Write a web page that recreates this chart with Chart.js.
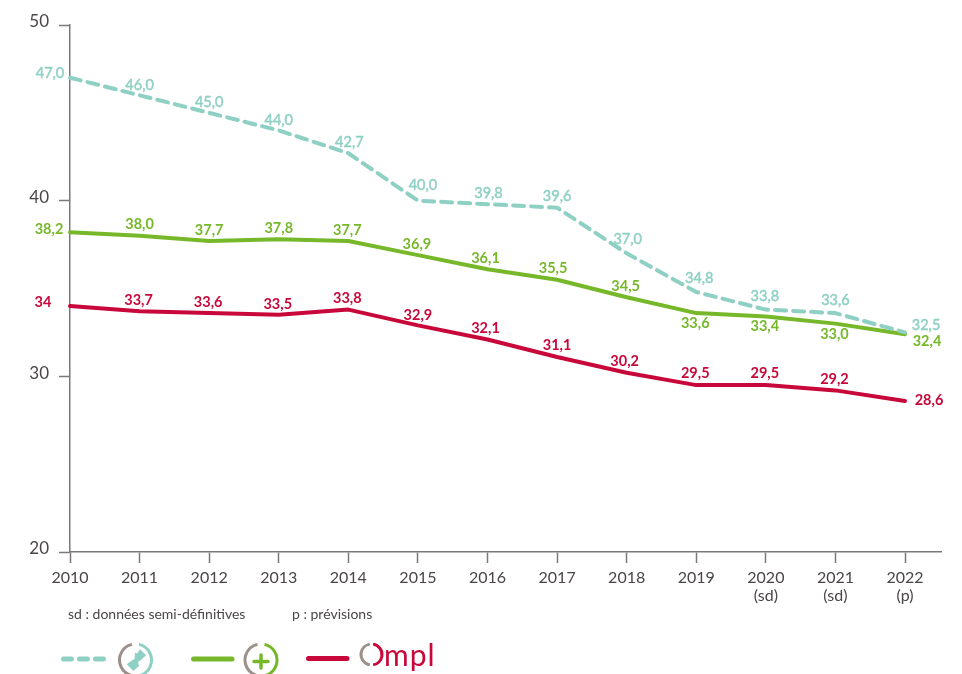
<!DOCTYPE html>
<html lang="fr"><head><meta charset="utf-8">
<style>html,body{margin:0;padding:0;background:#fff}canvas{display:block}</style>
<script src="https://cdn.jsdelivr.net/npm/chart.js@4"></script>
</head><body><canvas id="c" width="962" height="674"></canvas>
<script>
const years = [2010,2011,2012,2013,2014,2015,2016,2017,2018,2019,2020,2021,2022];
const yearSuffix = {2020:'(sd)',2021:'(sd)',2022:'(p)'};
const yTicks = [20,30,40,50];
const tealValues  = [47.0,46.0,45.0,44.0,42.7,40.0,39.8,39.6,37.0,34.8,33.8,33.6,32.5];
const greenValues = [38.2,38.0,37.7,37.8,37.7,36.9,36.1,35.5,34.5,33.6,33.4,33.0,32.4];
const redValues   = [34.0,33.7,33.6,33.5,33.8,32.9,32.1,31.1,30.2,29.5,29.5,29.2,28.6];
const tealLabels  = ['47,0','46,0','45,0','44,0','42,7','40,0','39,8','39,6','37,0','34,8','33,8','33,6','32,5'];
const greenLabels = ['38,2','38,0','37,7','37,8','37,7','36,9','36,1','35,5','34,5','33,6','33,4','33,0','32,4'];
const redLabels   = ['34','33,7','33,6','33,5','33,8','32,9','32,1','31,1','30,2','29,5','29,5','29,2','28,6'];
const noteSd = 'sd : données semi-définitives';
const noteP = 'p : prévisions';

const TEAL='#8fd0c4', GREEN='#76b82a', RED='#c8083a', GREY='#4a4546', AXIS='#7d7878', RING='#9c908a';
const FONT='Lato, sans-serif';

// label nudges (dx, dy from the data point), one row per series
const tealDx=[-20,0,0,0,1,5,1,0,1,3,-1,0,21],  tealDy=[-4,-10,-11,-10,-11,-15,-11,-11,-14,-14,-13,-13,-7];
const greenDx=[-21,0,0,0,-1,-1,-2,-4,-1,-1,-1,-1,22], greenDy=[-3,-11,-11,-11,-11,-11,-11,-11,-11,10,10,11,7];
const redDx=[-27,-1,-1,-1,-1,0,-2,0,-2,-1,-1,-1,24], redDy=[-4,-11,-11,-11,-11,-10,-11,-12,-11,-12,-12,-11,-1];

const pointLabels = {
  id:'pointLabels',
  afterDatasetsDraw(chart){
    const {ctx,scales:{x,y}}=chart;
    const rows=[[tealValues,tealLabels,tealDx,tealDy,TEAL,'400',0.45],
                [greenValues,greenLabels,greenDx,greenDy,GREEN,'700',0],
                [redValues,redLabels,redDx,redDy,RED,'700',0]];
    ctx.save();ctx.textAlign='center';ctx.textBaseline='middle';
    rows.forEach(([vals,txt,dx,dy,col,w,sw])=>{
      ctx.fillStyle=col;ctx.strokeStyle=col;ctx.lineWidth=sw;ctx.font=w+' 14.5px '+FONT;
      vals.forEach((v,i)=>{
        const px=x.getPixelForValue(years[i])+dx[i], py=y.getPixelForValue(v)+dy[i];
        ctx.fillText(txt[i],px,py);
        if(sw) ctx.strokeText(txt[i],px,py);
      });
    });
    ctx.restore();
  }
};

function ring(ctx,cx,cy,col){
  ctx.lineWidth=3;ctx.lineCap='butt';
  ctx.strokeStyle=RING;ctx.beginPath();ctx.arc(cx,cy,16,Math.PI*0.6,Math.PI*1.43);ctx.stroke();
  ctx.strokeStyle=col;ctx.beginPath();ctx.arc(cx,cy,16,-Math.PI*0.43,Math.PI*0.42);ctx.stroke();
}
const footer = {
  id:'footer',
  afterDraw(chart){
    const {ctx}=chart;
    ctx.save();
    ctx.fillStyle=GREY;ctx.font='14px '+FONT;ctx.textAlign='left';ctx.textBaseline='middle';
    ctx.fillText(noteSd,68,614);ctx.fillText(noteP,292,614);
    const ds=chart.data.datasets;
    ctx.lineWidth=5;ctx.lineCap='round';
    ctx.strokeStyle=ds[0].borderColor;
    [[63.5,71.5],[79.5,87.5],[95.5,103.5]].forEach(([a,b])=>{ctx.beginPath();ctx.moveTo(a,659);ctx.lineTo(b,659);ctx.stroke();});
    ctx.strokeStyle=ds[1].borderColor;ctx.beginPath();ctx.moveTo(193.5,659);ctx.lineTo(232,659);ctx.stroke();
    ctx.strokeStyle=ds[2].borderColor;ctx.beginPath();ctx.moveTo(308.5,658.5);ctx.lineTo(347,658.5);ctx.stroke();
    // first emblem
    ring(ctx,135.5,660,TEAL);
    ctx.fillStyle=TEAL;ctx.beginPath();
    ctx.moveTo(135,652.7);ctx.lineTo(137,653.5);ctx.lineTo(140,649.3);ctx.lineTo(146,655.3);ctx.lineTo(141,660);
    ctx.lineTo(138,662);ctx.lineTo(139,666);ctx.lineTo(133.3,671);ctx.lineTo(126.7,664.3);ctx.lineTo(132.7,660);ctx.lineTo(134.5,659);ctx.closePath();ctx.fill();
    // second emblem
    ring(ctx,261,660,GREEN);
    ctx.strokeStyle=GREEN;ctx.lineWidth=3.5;ctx.lineCap='round';ctx.beginPath();
    ctx.moveTo(254,661.5);ctx.lineTo(268,661.5);ctx.moveTo(261,655);ctx.lineTo(261,668);ctx.stroke();
    // third mark
    ctx.lineWidth=3;ctx.lineCap='butt';
    ctx.strokeStyle=RING;ctx.beginPath();ctx.arc(371.5,654.5,10.5,Math.PI*0.55,Math.PI*1.45);ctx.stroke();
    ctx.strokeStyle=RED;ctx.beginPath();ctx.arc(371.5,654.5,10.5,-Math.PI*0.45,Math.PI*0.45);ctx.stroke();
    ctx.fillStyle=RED;ctx.font='400 30px '+FONT;ctx.textBaseline='alphabetic';ctx.textAlign='left';
    ctx.letterSpacing='1px';
    ctx.fillText('mpl',384,666);
    ctx.restore();
  }
};

new Chart(document.getElementById('c'),{
  type:'line',
  data:{datasets:[
    {label:'teal',data:years.map((x,i)=>({x,y:tealValues[i]})),borderColor:TEAL,borderWidth:4,borderDash:[11,7],borderCapStyle:'round',borderDashOffset:0},
    {label:'green',data:years.map((x,i)=>({x,y:greenValues[i]})),borderColor:GREEN,borderWidth:4,borderCapStyle:'round'},
    {label:'red',data:years.map((x,i)=>({x,y:redValues[i]})),borderColor:RED,borderWidth:4,borderCapStyle:'round'}
  ]},
  options:{
    responsive:false,animation:false,
    layout:{padding:{left:0,right:21,top:25,bottom:0}},
    elements:{point:{radius:0},line:{tension:0,borderJoinStyle:'round'}},
    plugins:{legend:{display:false},tooltip:{enabled:false}},
    clip:false,
    scales:{
      x:{type:'linear',min:2010,max:2022.517,
        afterFit(s){s.height=122;},
        border:{color:AXIS,width:1.5},
        grid:{drawOnChartArea:false,tickLength:11,tickColor:AXIS,tickWidth:1.5},
        afterBuildTicks(s){s.ticks=years.map(v=>({value:v}));},
        ticks:{autoSkip:false,maxRotation:0,padding:6,color:GREY,font:{family:FONT,size:16,lineHeight:1.1},
          callback:v=>yearSuffix[v]?[String(v),yearSuffix[v]]:String(v)}},
      y:{min:20,max:50,
        afterFit(s){s.width=70;},
        border:{color:AXIS,width:1.5},
        grid:{drawOnChartArea:false,tickLength:11,tickColor:AXIS,tickWidth:1.5},
        afterBuildTicks(s){s.ticks=yTicks.map(v=>({value:v}));},
        ticks:{padding:10,labelOffset:-3,color:GREY,font:{family:FONT,size:17}}}
    }
  },
  plugins:[pointLabels,footer]
});
</script></body></html>
